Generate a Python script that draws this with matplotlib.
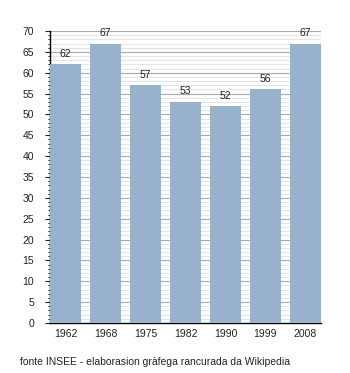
import matplotlib
matplotlib.use("Agg")
import matplotlib.pyplot as plt
from matplotlib.ticker import MultipleLocator

years = ["1962", "1968", "1975", "1982", "1990", "1999", "2008"]
values = [62, 67, 57, 53, 52, 56, 67]

plt.rcParams['font.family'] = ['Liberation Sans', 'DejaVu Sans']

fig = plt.figure(figsize=(3.5, 3.73), dpi=100)
ax = fig.add_axes([50/350, 1-323/373, (321-50)/350, (323-31)/373])

w = 0.78
x = list(range(len(years)))
ax.bar(x, values, width=w, color="#99b2cc", zorder=3)
for xi, v in zip(x, values):
    ax.text(xi, v + 1.3, str(v), ha="center", va="bottom", fontsize=7.5, color="#222222", zorder=4)

ax.set_xlim(-w/2, len(years) - 1 + w/2)
ax.set_ylim(0, 70)
ax.set_xticks(x)
ax.set_xticklabels(years)
ax.yaxis.set_major_locator(MultipleLocator(5))
ax.yaxis.set_minor_locator(MultipleLocator(1))
ax.grid(axis="y", which="major", color="#aaaaaa", linewidth=0.8, zorder=1)
ax.grid(axis="y", which="minor", color="#e4e4e4", linewidth=0.8, zorder=0)
ax.spines["top"].set_visible(False)
ax.spines["right"].set_visible(False)
ax.spines["left"].set_linewidth(1.0)
ax.spines["bottom"].set_linewidth(1.0)
ax.tick_params(axis="y", which="major", length=3.6, labelsize=7.5, direction="out", pad=8, colors="#222222")
ax.tick_params(axis="y", which="minor", length=1.8, direction="out")
ax.tick_params(axis="x", length=0, labelsize=7.5, pad=4, colors="#222222")

fig.text(20/350, 1-362/373, "fonte INSEE - elaborasion gràfega rancurada da Wikipedia",
         fontsize=7.5, ha="left", va="center", color="#222222")

fig.savefig("out.png", dpi=100)
